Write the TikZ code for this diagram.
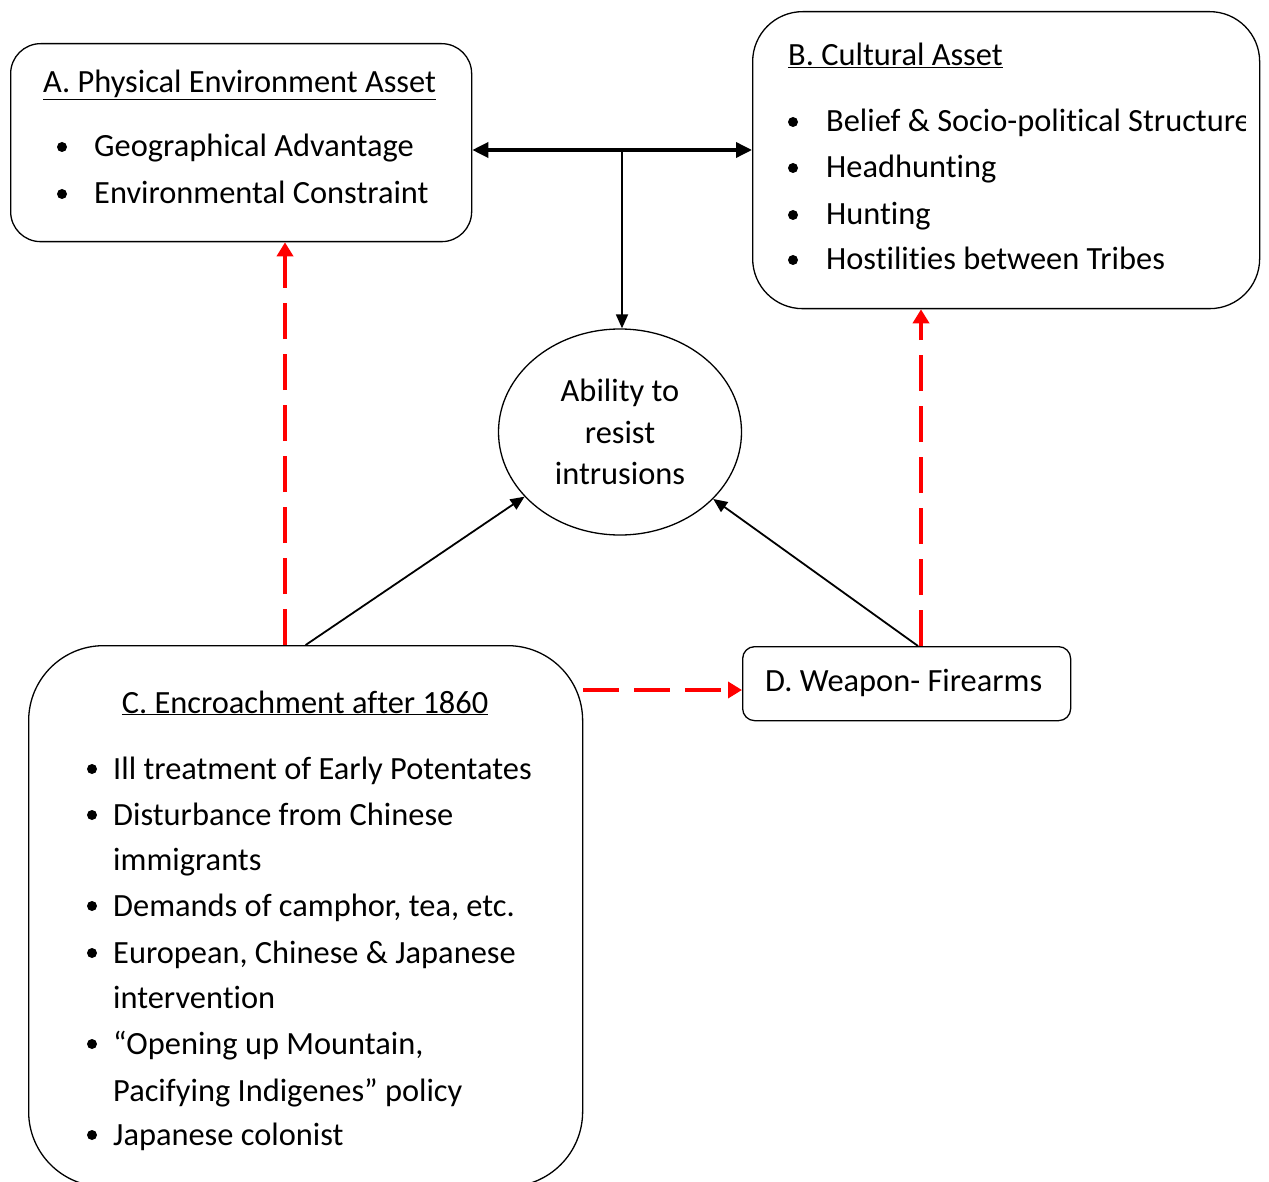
\documentclass[tikz,border=0pt]{standalone}
\usepackage{fontspec}
\setmainfont{Carlito}[Ligatures=NoCommon]
\usetikzlibrary{shapes.geometric,arrows.meta}

\tikzset{
  box/.style={draw, line width=1.3pt, inner sep=0pt, anchor=north west},
  txt/.style={anchor=base west, inner sep=0pt, font=\fontsize{32.4}{38}\selectfont},
  dot/.style={fill, circle, inner sep=0pt, minimum size=10pt},
  link/.style={line width=1.8pt, -{Triangle[length=14pt,width=12pt]}},
  biglink/.style={line width=3.5pt, {Triangle[length=16pt,width=15pt]}-{Triangle[length=16pt,width=15pt]}},
  redlink/.style={red, line width=4pt, dash pattern=on 36pt off 15pt, -{Triangle[length=14pt,width=16pt]}},
}

\begin{document}
\begin{tikzpicture}[x=1pt, y=-1pt]
\clip (0,0) rectangle (1269,1182);

% boxes
\node[box, rounded corners=30pt, minimum width=461pt, minimum height=198pt] (boxA) at (10,43) {};
\node[box, rounded corners=50pt, minimum width=507pt, minimum height=297pt] (boxB) at (752,11) {};
\node[box, rounded corners=75pt, minimum width=554pt, minimum height=541pt] (boxC) at (28,645) {};
\node[box, rounded corners=12pt, minimum width=328pt, minimum height=74pt] (boxD) at (742,646) {};
\node[draw, ellipse, line width=1.3pt, inner sep=0pt, minimum width=243pt, minimum height=206pt,
      align=center, font=\fontsize{32.4}{41.5}\selectfont] (ability) at (620,432) {Ability to\\resist\\intrusions};

% A
\node[txt] (aT) at (43,93) {\underline{A. Physical Environment Asset}};
\node[dot] (ad1) at (62,147) {};
\node[dot] (ad2) at (62,194) {};
\node[txt] (a1) at (94,157) {Geographical Advantage};
\node[txt] (a2) at (94,204) {Environmental Constraint};

% B
\node[txt] (bT) at (788,66) {\underline{B. Cultural Asset}};
\node[dot] (bd1) at (793,122) {};
\node[dot] (bd2) at (793,168) {};
\node[dot] (bd3) at (793,215) {};
\node[dot] (bd4) at (793,260) {};
\begin{scope}
\clip (752,11) rectangle (1245,308);
\node[txt] (b1) at (826,132) {Belief \& Socio-political Structure};
\end{scope}
\node[txt] (b2) at (826,178) {Headhunting};
\node[txt] (b3) at (826,225) {Hunting};
\node[txt] (b4) at (826,270) {Hostilities between Tribes};

% C
\node[txt, anchor=base] (cT) at (305,713) {\underline{C. Encroachment after 1860}};
\node[dot] (cd1) at (92,769) {};
\node[dot] (cd2) at (92,815) {};
\node[dot] (cd3) at (92,906) {};
\node[dot] (cd4) at (92,953) {};
\node[dot] (cd5) at (92,1044) {};
\node[dot] (cd6) at (92,1135) {};
\node[txt] (c1) at (113,779) {Ill treatment of Early Potentates};
\node[txt] (c2) at (113,825) {Disturbance from Chinese};
\node[txt] (c2b) at (113,870) {immigrants};
\node[txt] (c3) at (113,916) {Demands of camphor, tea, etc.};
\node[txt] (c4) at (113,963) {European, Chinese \& Japanese};
\node[txt] (c4b) at (113,1008) {intervention};
\node[txt] (c5) at (113,1054) {“Opening up Mountain,};
\node[txt] (c5b) at (113,1101) {Pacifying Indigenes” policy};
\node[txt] (c6) at (113,1145) {Japanese colonist};

% D
\node[txt] (dT) at (765,691) {D. Weapon- Firearms};

% connectors
\coordinate (hub) at (622,150);
\coordinate (redA) at (285,0);
\coordinate (redB) at (921,0);
\coordinate (redC) at (0,690);
\coordinate (dTop) at (918,646);

\draw[biglink] (boxA.east |- hub) -- (boxB.west |- hub);
\draw[link] (hub) -- (hub |- ability.north);
\draw[link] (boxC.north) -- (ability);
\draw[link] (dTop) -- (ability);

\draw[redlink] (boxC.north -| redA) -- (boxA.south -| redA);
\draw[redlink] (boxD.north -| redB) -- (boxB.south -| redB);
\draw[redlink] (boxC.east |- redC) -- (boxD.west |- redC);

\end{tikzpicture}
\end{document}
